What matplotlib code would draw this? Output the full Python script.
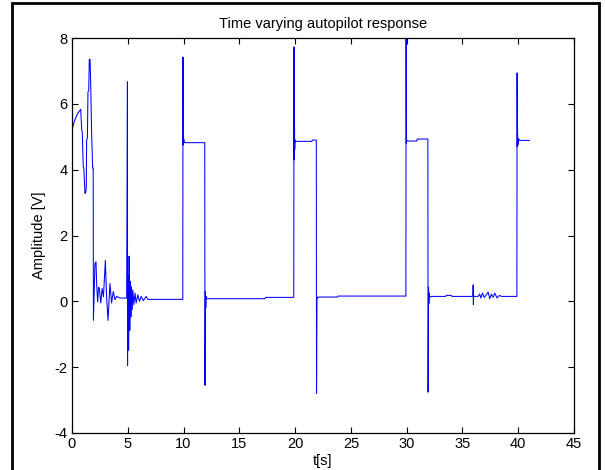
import matplotlib
matplotlib.use("Agg")
import matplotlib.pyplot as plt
from matplotlib.patches import Rectangle

plt.rcParams['font.family'] = ['Liberation Sans', 'DejaVu Sans']
plt.rcParams['axes.unicode_minus'] = False

title = "Time varying autopilot response"
xlabel = "t[s]"
ylabel = "Amplitude [V]"
xticks = [0, 5, 10, 15, 20, 25, 30, 35, 40, 45]
yticks = [-4, -2, 0, 2, 4, 6, 8]

# time breakpoints [s] and amplitude [V]
t_s = [
    0.00, 0.00, 0.03, 0.15, 0.30, 0.50, 0.70, 0.78, 0.87, 0.92, 1.01, 1.06, 1.16, 1.22, 1.28, 1.31, 1.38, 1.43, 1.50, 1.55, 1.62, 1.67, 1.76, 1.85, 1.90,
    1.92, 2.06, 2.15, 2.22, 2.30, 2.38, 2.45, 2.58, 2.70, 2.82, 2.99, 3.10, 3.23, 3.40, 3.55, 3.70, 3.85, 4.00, 4.30, 4.90,
    4.97, 4.98, 5.00, 5.08, 5.12, 5.18, 5.22, 5.28, 5.32, 5.40, 5.45, 5.55, 5.65, 5.75, 5.90, 6.05, 6.20, 6.40, 6.65, 6.80, 8.00, 9.93,
    9.95, 9.97, 10.00, 10.10, 11.90,
    11.92, 11.96, 11.99, 12.02, 12.05, 17.30, 17.35, 19.88,
    19.90, 19.92, 19.94, 19.96, 20.00, 20.10, 21.50, 21.55, 21.90,
    21.92, 21.96, 21.99, 22.10, 23.80, 23.85, 29.93,
    29.95, 29.97, 30.00, 30.10, 30.90, 30.95, 31.90,
    31.92, 31.96, 31.99, 32.02, 32.06, 32.20, 33.50, 33.55, 34.00, 34.05, 35.94,
    35.96, 35.98, 36.00, 36.40, 36.55, 36.65, 36.80, 36.95, 37.10, 37.30, 37.45, 37.60, 37.75, 37.90, 38.10, 38.30, 38.50, 39.88,
    39.90, 39.92, 39.94, 39.97, 40.00, 40.02, 40.10, 41.00,
]
v_V = [
    0.00, 5.30, 5.25, 5.40, 5.55, 5.70, 5.80, 5.83, 5.20, 5.15, 4.08, 4.05, 3.28, 3.30, 3.45, 4.90, 4.95, 6.36, 6.40, 7.35, 7.35, 6.70, 5.10, 4.05, 4.05,
    -0.58, 1.15, 1.20, 0.43, -0.02, 0.43, 0.40, -0.05, 0.39, 0.14, 1.25, 0.15, -0.58, 0.54, -0.05, 0.30, 0.05, 0.15, 0.10, 0.10,
    6.67, -1.95, 0.80, -1.49, 1.37, -0.88, 0.60, -0.47, 0.45, -0.25, 0.35, -0.10, 0.25, -0.05, 0.20, 0.00, 0.15, 0.02, 0.15, 0.06, 0.06, 0.06,
    7.42, 4.75, 4.95, 4.82, 4.82,
    -2.55, 0.30, -0.20, 0.15, 0.08, 0.08, 0.12, 0.12,
    7.73, 4.30, 5.80, 4.60, 4.90, 4.86, 4.86, 4.90, 4.90,
    -2.80, 0.13, 0.10, 0.13, 0.13, 0.16, 0.16,
    7.97, 4.80, 4.90, 4.87, 4.87, 4.93, 4.93,
    -2.76, 0.43, -0.07, 0.25, 0.12, 0.15, 0.15, 0.18, 0.18, 0.15, 0.15,
    0.50, -0.10, 0.15, 0.15, 0.22, 0.10, 0.25, 0.12, 0.18, 0.28, 0.08, 0.22, 0.12, 0.25, 0.10, 0.18, 0.15, 0.15,
    6.94, 4.70, 5.10, 4.75, 4.89, 4.95, 4.89, 4.89,
]

fig = plt.figure(figsize=(6.05, 4.70), dpi=100)
ax = fig.add_axes([72/605, 1 - 433/470, (574 - 72)/605, (433 - 38)/470])

ax.plot(t_s, v_V, color=(0, 0, 1), linewidth=0.75)

ax.set_xlim(0, 45)
ax.set_ylim(-4, 8)
ax.set_xticks(xticks)
ax.set_yticks(yticks)
ax.tick_params(direction='in', top=True, right=True, length=4, width=0.8,
               labelsize=10.5, colors='black', pad=3)
for s in ax.spines.values():
    s.set_linewidth(0.9)
ax.set_title(title, fontsize=10.5, pad=7)
ax.set_xlabel(xlabel, fontsize=10.5, labelpad=2)
ax.set_ylabel(ylabel, fontsize=10.5, labelpad=6)

# outer figure frame
fig.patches.append(Rectangle((12/605, -0.05), (599 - 12)/605, 1.05 - 3/470,
                             transform=fig.transFigure, fill=False,
                             edgecolor='black', linewidth=2, clip_on=False))

fig.savefig("out.png", dpi=100)
